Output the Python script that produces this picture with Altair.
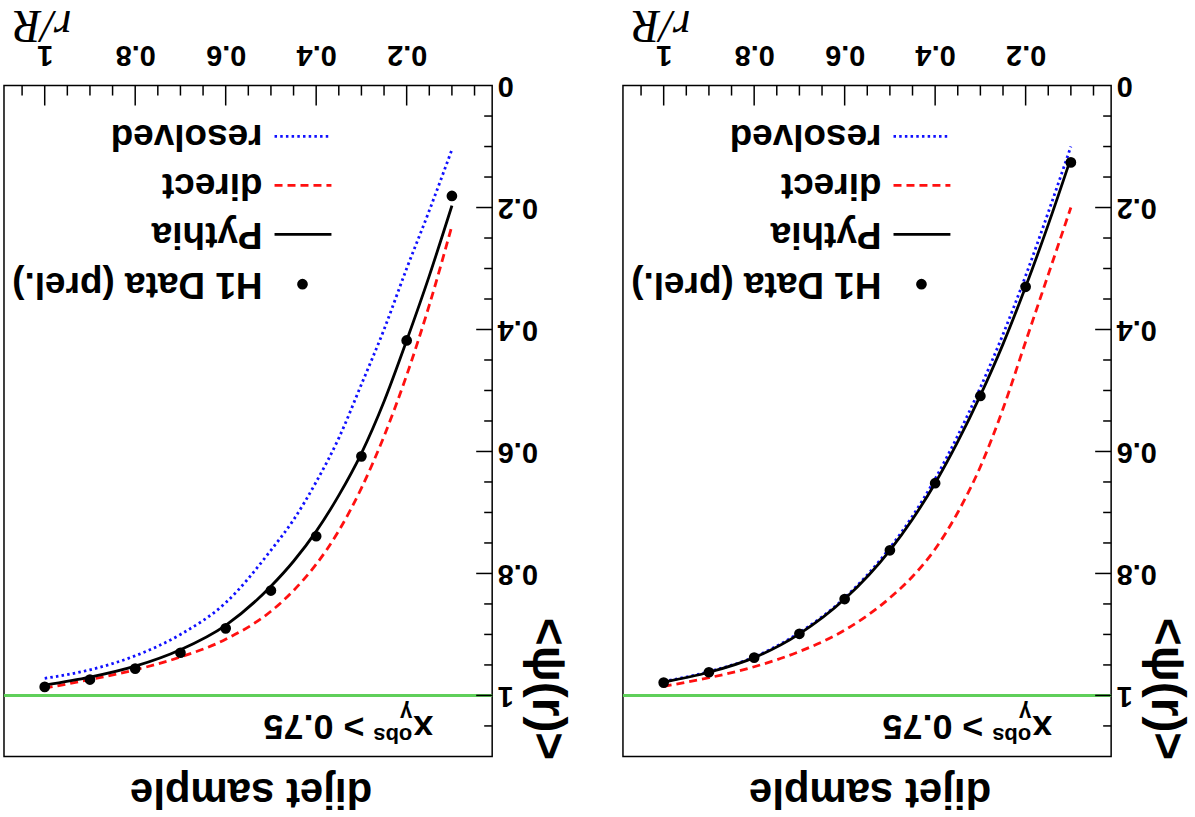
import altair as alt
import pandas as pd

# r/R positions of the measured points and of the model curves
r_points = [0.1, 0.2, 0.3, 0.4, 0.5, 0.6, 0.7, 0.8, 0.9, 1.0]
r_curve = [0.1, 0.15, 0.2, 0.25, 0.3, 0.35, 0.4, 0.45, 0.5, 0.6, 0.7, 0.8, 0.9, 1.0]

# panel drawn on the left
data_a = [0.181, 0.418, 0.608, 0.739, 0.828, 0.890, 0.930, 0.956, 0.974, 0.986]
pythia_a = [0.197, 0.312, 0.418, 0.518, 0.603, 0.672, 0.731, 0.780, 0.821, 0.885, 0.925, 0.952, 0.970, 0.983]
direct_a = [0.230, 0.360, 0.475, 0.575, 0.660, 0.730, 0.785, 0.828, 0.862, 0.908, 0.937, 0.958, 0.974, 0.988]
resolved_a = [0.105, 0.205, 0.300, 0.400, 0.490, 0.578, 0.650, 0.712, 0.762, 0.848, 0.900, 0.935, 0.958, 0.972]

# panel drawn on the right
data_b = [0.126, 0.330, 0.509, 0.652, 0.762, 0.842, 0.899, 0.938, 0.962, 0.979]
pythia_b = [0.119, 0.228, 0.330, 0.424, 0.508, 0.584, 0.652, 0.711, 0.762, 0.842, 0.899, 0.938, 0.962, 0.978]
direct_b = [0.200, 0.310, 0.420, 0.530, 0.625, 0.700, 0.760, 0.805, 0.840, 0.893, 0.928, 0.953, 0.971, 0.985]
resolved_b = [0.100, 0.208, 0.312, 0.408, 0.495, 0.574, 0.645, 0.706, 0.758, 0.840, 0.897, 0.937, 0.961, 0.977]

legend_labels = ["resolved", "direct", "Pythia", "H1 Data (prel.)"]
x_major = [0.2, 0.4, 0.6, 0.8, 1.0]
y_major = [0.0, 0.2, 0.4, 0.6, 0.8, 1.0]

W, H = 489, 672
SANS = "Liberation Sans"
GREEN = "#5fcf5a"

x_minor = [round(0.05 * i, 2) for i in range(1, 22) if i % 4]
y_minor = [round(0.05 * i, 2) for i in range(1, 22) if i % 4]

xs = alt.Scale(domain=[0.011, 1.09], reverse=True, nice=False, zero=False)
ys = alt.Scale(domain=[0.0, 1.1], reverse=True, nice=False, zero=False)

x_axis = alt.Axis(
    orient="top", values=x_major, format="~g", grid=False, domain=False,
    ticks=False, tickSize=0, labelAngle=180, labelAlign="center",
    labelBaseline="top", labelPadding=17, labelFont=SANS, labelFontWeight="bold",
    labelFontSize=29, labelColor="black", labelFlush=False, labelOverlap=False,
    title="r/R", titleFont="Liberation Serif", titleFontStyle="italic",
    titleFontWeight="normal", titleFontSize=46, titleColor="black",
    titleAngle=180, titleAlign="center", titleBaseline="middle",
    titleX=38, titleY=-61,
)
y_axis = alt.Axis(
    orient="right", values=y_major, format="~g", grid=False, domain=False,
    ticks=False, tickSize=0, labelAngle=180, labelAlign="right",
    labelBaseline="middle", labelPadding=5, labelFont=SANS, labelFontWeight="bold",
    labelFontSize=29, labelColor="black", labelFlush=False, labelOverlap=False,
    title="<ψ(r)>", titleFont=SANS, titleFontWeight="bold", titleFontSize=48,
    titleColor="black", titleAngle=90, titleAlign="center", titleBaseline="middle",
    titleX=54, titleY=604,
)

X = alt.X("r:Q", scale=xs, axis=x_axis)
Y = alt.Y("psi:Q", scale=ys, axis=y_axis)


def text(s, x, y, size, **kw):
    return alt.Chart().mark_text(
        text=s, angle=180, font=SANS, fontWeight="bold", fontSize=size,
        color="black", **kw
    ).encode(x=alt.value(x), y=alt.value(y))


def panel(points, pythia, direct, resolved):
    pts = pd.DataFrame({"r": r_points, "psi": points})
    one = pd.DataFrame({"psi": [1.0]})

    def curve(values):
        return pd.DataFrame({"r": r_curve, "psi": values})

    layers = []
    # reference line at psi = 1
    layers.append(alt.Chart(one).mark_rule(color=GREEN, strokeWidth=3).encode(y=Y))
    # model curves
    layers.append(alt.Chart(curve(resolved)).mark_line(
        color="#1010ff", strokeWidth=2.8, strokeDash=[2.5, 3.2], interpolate="monotone"
    ).encode(x=X, y=Y))
    layers.append(alt.Chart(curve(direct)).mark_line(
        color="#ff1010", strokeWidth=2.8, strokeDash=[8, 5], interpolate="monotone"
    ).encode(x=X, y=Y))
    layers.append(alt.Chart(curve(pythia)).mark_line(
        color="black", strokeWidth=2.8, interpolate="monotone"
    ).encode(x=X, y=Y))
    # measured points
    layers.append(alt.Chart(pts).mark_point(
        filled=True, color="black", size=115, opacity=1
    ).encode(x=X, y=Y))

    # inward ticks on the r/R axis
    for vals, length in ((x_major, 20), (x_minor, 10)):
        layers.append(alt.Chart(pd.DataFrame({"r": vals})).mark_rule(
            color="black", strokeWidth=1.5
        ).encode(x=X, y=alt.value(0), y2=alt.value(length)))
    # inward ticks on the psi axis
    for vals, length in ((y_major[1:], 16), (y_minor, 8)):
        layers.append(alt.Chart(pd.DataFrame({"psi": vals})).mark_rule(
            color="black", strokeWidth=1.5
        ).encode(y=Y, x=alt.value(W), x2=alt.value(W - length)))

    # legend
    styles = [
        dict(color="#1010ff", strokeDash=[2.5, 3.2]),
        dict(color="#ff1010", strokeDash=[8, 5]),
        dict(color="black"),
    ]
    rows = [51, 100, 149, 199]
    for row, st in zip(rows[:3], styles):
        layers.append(alt.Chart().mark_rule(strokeWidth=2.8, **st).encode(
            x=alt.value(271), x2=alt.value(328), y=alt.value(row)))
    layers.append(alt.Chart().mark_point(
        filled=True, color="black", size=115, opacity=1
    ).encode(x=alt.value(299), y=alt.value(rows[3])))
    for row, lab in zip(rows, legend_labels):
        layers.append(text(lab, 259, row - 11, 37, align="left", baseline="alphabetic"))

    # selection label x_gamma^obs > 0.75
    layers.append(text("x", 430, 632, 36, align="left", baseline="alphabetic"))
    layers.append(text("γ", 409, 621, 22, align="left", baseline="alphabetic"))
    layers.append(text("obs", 409, 644, 22, align="left", baseline="alphabetic"))
    layers.append(text("> 0.75", 361, 631, 36, align="left", baseline="alphabetic"))

    # panel caption
    layers.append(text("dijet sample", W / 2 + 3, 708, 42, align="center", baseline="middle"))

    return alt.layer(*layers).properties(width=W, height=H)


chart = alt.hconcat(
    panel(data_a, pythia_a, direct_a, resolved_a),
    panel(data_b, pythia_b, direct_b, resolved_b),
    spacing=131, bounds="flush",
).properties(
    padding={"left": 1, "top": 0, "right": 5, "bottom": 5},
    background="white",
).configure_view(stroke="black", strokeWidth=1.5)

chart.save("out.html", embed_options={"renderer": "svg", "actions": False})
